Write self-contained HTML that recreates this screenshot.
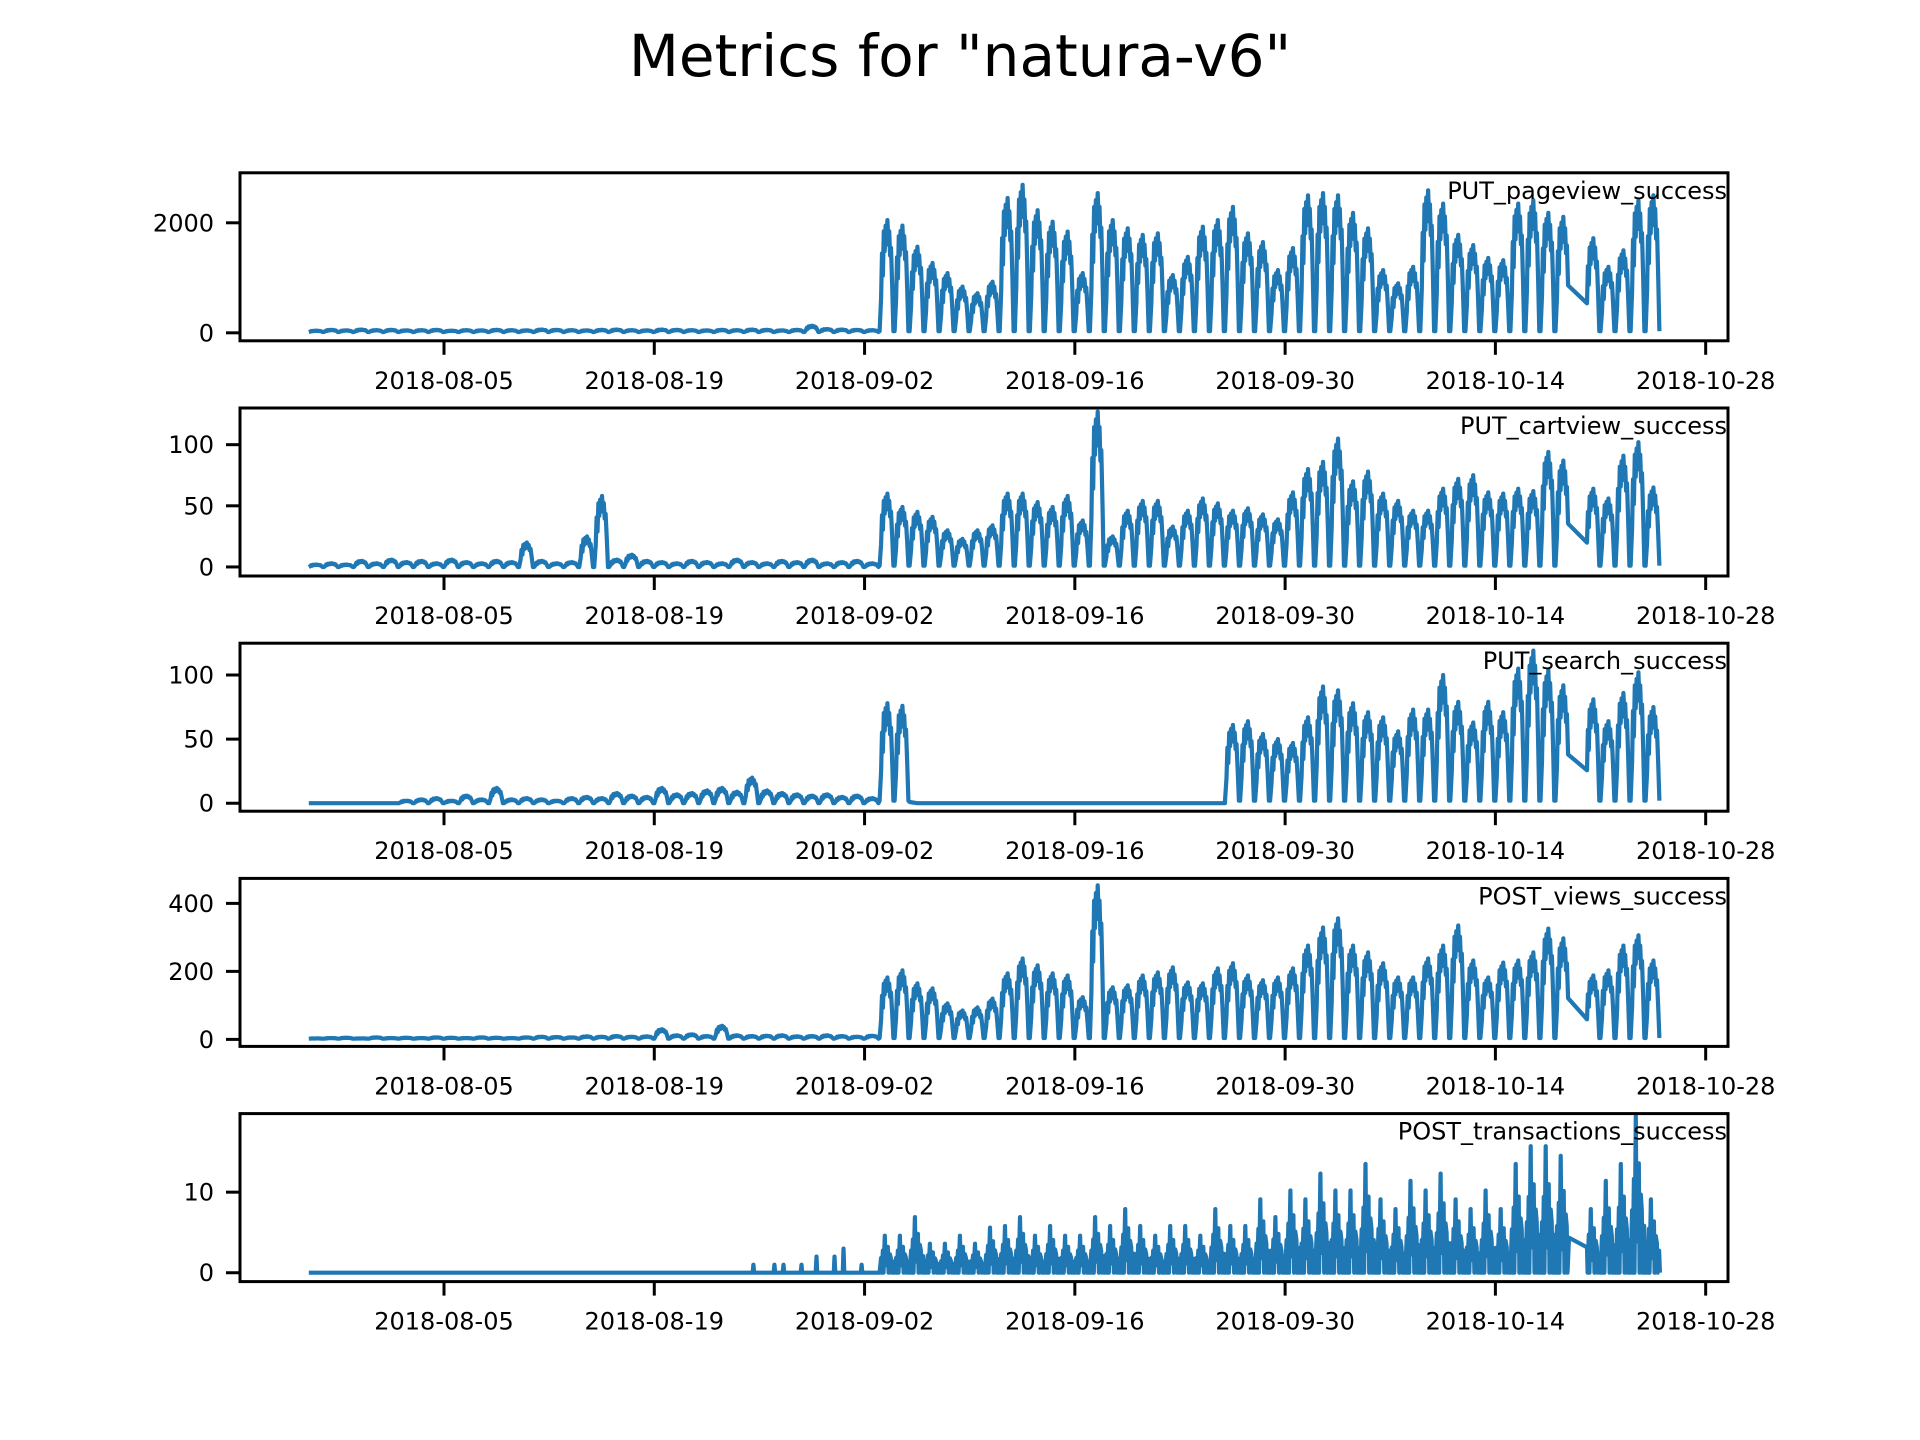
<!DOCTYPE html>
<html><head><meta charset="utf-8">
<style>
html,body{margin:0;padding:0;background:#fff;}
svg{display:block;font-family:"DejaVu Sans","Liberation Sans",sans-serif;}
</style></head>
<body>
<svg id="fig" width="1920" height="1440" viewBox="0 0 1920 1440" xmlns="http://www.w3.org/2000/svg">
<rect x="0" y="0" width="1920" height="1440" fill="#fff"/>
<text x="960" y="76" font-size="58" text-anchor="middle" fill="#000">Metrics for "natura-v6"</text>
</svg>
<script>
// ---- data ----
const xTickLabels = ["2018-08-05","2018-08-19","2018-09-02","2018-09-16","2018-09-30","2018-10-14","2018-10-28"];
const xTickDays = [0,14,28,42,56,70,84]; // days after 2018-08-05
const panelNames = ["PUT_pageview_success","PUT_cartview_success","PUT_search_success","POST_views_success","POST_transactions_success"];
const yTicks1 = [0,2000];
const yTicks2 = [0,50,100];
const yTicks3 = [0,50,100];
const yTicks4 = [0,200,400];
const yTicks5 = [0,10];
const yLims = [[-145,2909],[-7.4,130],[-6.2,124.8],[-20.6,473.5],[-1.1,19.75]];
// pre-period daily peaks (starting 2018-07-27, 38 days)
const prePageview = [40,55,45,60,50,55,45,50,55,40,50,45,55,50,45,60,55,50,45,55,60,50,45,60,55,50,45,55,50,60,55,45,55,130,70,60,55,50];
const preCartview = [2,3,2,5,3,6,4,5,3,6,4,3,5,4,20,5,3,4,25,58,6,10,5,4,3,5,4,3,6,4,3,5,4,6,3,4,5,3];
const preSearch = [0,0,0,0,0,0,2,3,4,2,6,3,12,3,4,3,2,4,5,4,8,6,5,12,7,8,10,12,9,20,10,8,7,6,7,5,6,4];
const preViews = [3,4,5,3,6,4,5,4,6,5,4,6,5,4,6,8,7,6,9,8,10,8,9,30,12,15,10,40,12,10,11,12,9,10,12,10,8,11];
// transactions spikes before 2018-09-03 (day offsets after 2018-08-05, values)
const preTxDays = [20.6,22,22.6,23.8,24.8,26,26.6,27.8];
const preTxVals = [1,1,1,1,2,2,3,1];
// main period daily peaks (starting 2018-09-03, 52 days; null = missing data)
const pageview = [2050,1950,1565,1270,1085,840,720,930,2450,2690,2230,2020,1840,1085,2540,2050,1900,1780,1810,1050,1380,1930,2050,2290,1810,1650,1140,1540,2500,2540,2500,2180,1900,1140,900,1200,2590,2350,1780,1595,1360,1320,2350,2410,2180,2110,null,1720,1200,1500,2410,2500];
const cartview = [60,49,45,41,30,23,30,34,60,60,53,49,58,38,127,25,46,54,54,33,46,56,52,46,48,43,39,61,80,86,105,70,78,60,54,46,46,64,72,75,61,60,64,62,94,87,null,64,56,91,102,65];
const views = [182,203,165,150,106,85,94,120,194,238,218,194,188,124,453,153,159,188,197,212,168,165,209,224,188,174,182,209,276,329,356,276,256,224,182,182,238,276,335,232,182,226,232,256,326,297,null,188,203,276,306,232];
const transactions = [4.6,4.6,6.9,3.6,3.6,4.6,3.6,5.6,5.8,6.9,4.6,5.8,4.6,4.6,6.9,5.8,7.9,5.8,4.6,5.8,5.8,4.6,7.9,5.8,5.8,9.1,6.9,10.2,9.1,12.3,10.2,10.2,13.5,9.1,7.9,11.4,10.2,12.3,9.1,7.9,10.2,7.9,13.5,15.7,15.7,14.5,null,7.9,11.4,13.5,19.4,9.1];
// search: burst on 2018-09-03 (2 days), then cycles from 2018-09-26 (29 days)
const searchBurst = [78,76];
const search = [61,64,54,50,47,67,91,88,78,71,67,56,73,73,100,79,63,79,71,105,119,104,92,null,81,64,86,102,75];

// ---- layout ----
const NS = "http://www.w3.org/2000/svg";
const svg = document.getElementById("fig");
const L = 240, R = 1728, H = 168;
const tops = [172.8, 408, 643.2, 878.4, 1113.6];
const X0 = 444, PXD = 15.02;
function xs(d){ return X0 + d*PXD; }
function mk(tag, attrs, parent){
  const e = document.createElementNS(NS, tag);
  for (const k in attrs) e.setAttribute(k, attrs[k]);
  (parent||svg).appendChild(e);
  return e;
}
const tmpl = [[0,0],[0.1,0.3],[0.16,0.7],[0.22,0.5],[0.28,0.9],[0.34,0.72],[0.4,0.95],[0.46,0.78],[0.52,1],[0.58,0.82],[0.64,0.9],[0.7,0.68],[0.76,0.75],[0.84,0.4],[0.92,0]];
const txT = [[0,0],[0.1,0.4],[0.14,0],[0.22,0.6],[0.26,0],[0.35,1],[0.4,0.2],[0.48,0.5],[0.55,0.7],[0.6,0],[0.68,0.5],[0.75,0.4],[0.8,0],[0.9,0.3],[0.95,0]];
function dailyPts(startDay, arr, base, t){
  const pts = [];
  const tp = t||tmpl;
  arr.forEach((p,i)=>{
    if (p === null) return;
    let s0 = 0, s1 = tp.length;
    if (i>0 && arr[i-1]===null) s0 = 1;
    if (i<arr.length-1 && arr[i+1]===null) s1 = tp.length-1;
    for (let k=s0;k<s1;k++){
      const s = tp[k];
      pts.push([startDay+i+s[0], s[1]===0 ? base : base+(p-base)*s[1]]);
    }
  });
  return pts;
}
const yTickSets = [yTicks1,yTicks2,yTicks3,yTicks4,yTicks5];
const seriesPts = [];
seriesPts.push(dailyPts(-9, prePageview, 15).concat(dailyPts(29, pageview, 30)));
seriesPts.push(dailyPts(-9, preCartview, 0).concat(dailyPts(29, cartview, 1)));
seriesPts.push(dailyPts(-9, preSearch, 0).concat(dailyPts(29, searchBurst, 2), [[31,1],[31.5,0],[52,0]], dailyPts(52, search, 2)));
seriesPts.push(dailyPts(-9, preViews, 2).concat(dailyPts(29, views, 4)));
(function(){
  const pts = [[-9,0]];
  preTxDays.forEach((d,i)=>{ pts.push([d-0.05,0],[d,preTxVals[i]],[d+0.05,0]); });
  seriesPts.push(pts.concat(dailyPts(29, transactions, 0, txT)));
})();
const keys = ["pageview","cartview","search","views","transactions"];

for (let p=0; p<5; p++){
  const T = tops[p], B = T+H, lim = yLims[p];
  const ys = v => B - (v-lim[0])/(lim[1]-lim[0])*H;
  const g = mk("g", {});
  
  
  const clipId = "clip"+p;
  const cp = mk("clipPath", {id:clipId}, g);
  mk("rect", {x:L, y:T, width:R-L, height:H}, cp);
  const d = seriesPts[p].map((q,i)=>(i?"L":"M")+xs(q[0]).toFixed(1)+","+ys(q[1]).toFixed(1)).join("");
  const line = mk("path", {d:d, fill:"none", stroke:"#1f77b4", "stroke-width":4.2, "stroke-linejoin":"round", "clip-path":"url(#"+clipId+")"}, g);
  
  
  const frame = mk("rect", {x:L, y:T, width:R-L, height:H, fill:"none", stroke:"#000", "stroke-width":3}, g);
  
  
  yTickSets[p].forEach(v=>{
    const y = ys(v);
    const tk = mk("line", {x1:L-14, x2:L, y1:y, y2:y, stroke:"#000", "stroke-width":3}, g);
    
    
    const tl = mk("text", {x:L-26, y:y+8.5, "font-size":24, "text-anchor":"end", fill:"#000"}, g);
    tl.textContent = String(v);
    
    
  });
  xTickDays.forEach((dd,i)=>{
    const x = xs(dd);
    const tk = mk("line", {x1:x, x2:x, y1:B, y2:B+14, stroke:"#000", "stroke-width":3}, g);
    
    
    const tl = mk("text", {x:x, y:B+48, "font-size":24, "text-anchor":"middle", fill:"#000"}, g);
    tl.textContent = xTickLabels[i];
    
    
  });
  const lab = mk("text", {x:R-1, y:T+26, "font-size":24, "text-anchor":"end", fill:"#000"}, g);
  lab.textContent = panelNames[p];
  
  
}
</script>
</body></html>
